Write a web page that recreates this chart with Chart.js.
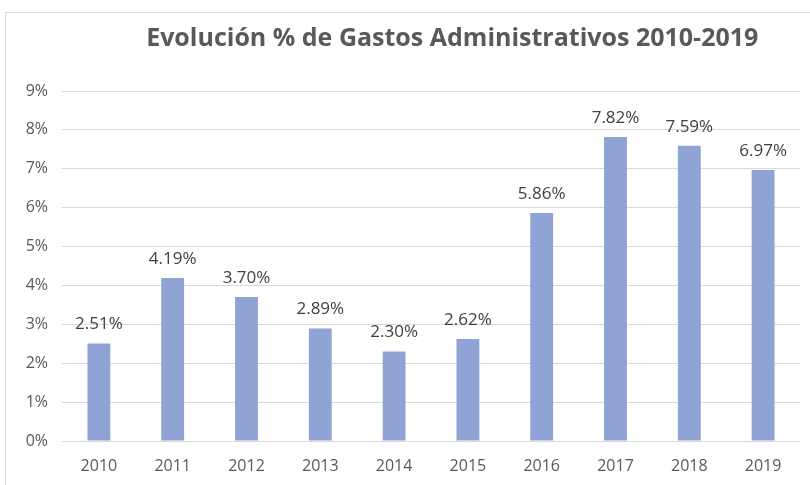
<!DOCTYPE html>
<html>
<head>
<meta charset="utf-8">
<script src="https://cdn.jsdelivr.net/npm/chart.js@4"></script>
<style>
  body { margin: 0; background: #fff; }
  #box {
    position: absolute; left: 5px; top: 12px;
    width: 805px; height: 473px;
    border-left: 1px solid #d9d9d9; border-top: 1px solid #d9d9d9;
  }
</style>
</head>
<body>
<div id="box"><canvas id="c" width="804" height="472"></canvas></div>
<script>
// data
let years = ['2010', '2011', '2012', '2013', '2014', '2015', '2016', '2017', '2018', '2019'];
let gastos = [2.51, 4.19, 3.70, 2.89, 2.30, 2.62, 5.86, 7.82, 7.59, 6.97];
let yTicks = [0, 1, 2, 3, 4, 5, 6, 7, 8, 9];
let titulo = 'Evolución % de Gastos Administrativos 2010-2019';

// title sits a bit right of centre in the original, so draw it ourselves
let offsetTitle = {
    id: 'offsetTitle',
    afterDraw(chart) {
        let ctx = chart.ctx;
        ctx.save();
        ctx.font = 'bold 25px "Open Sans", sans-serif';
        ctx.fillStyle = '#595959';
        ctx.textAlign = 'center';
        ctx.textBaseline = 'middle';
        ctx.fillText(titulo, chart.width * 0.555, 26);
        ctx.restore();
    }
};

// write the value above every bar
let barLabels = {
    id: 'barLabels',
    afterDatasetsDraw(chart) {
        let ctx = chart.ctx;
        let meta = chart.getDatasetMeta(0);
        ctx.save();
        ctx.font = '17px "Open Sans", sans-serif';
        ctx.fillStyle = '#404040';
        ctx.textAlign = 'center';
        ctx.textBaseline = 'middle';
        meta.data.forEach((bar, i) => {
            ctx.fillText(gastos[i].toFixed(2) + '%', bar.x, bar.y - 19);
        });
        ctx.restore();
    }
};

new Chart(document.getElementById('c'), {
    type: 'bar',
    data: {
        labels: years,
        datasets: [{
            data: gastos,
            backgroundColor: '#8fa4d4',
            barPercentage: 0.31,
            categoryPercentage: 1
        }]
    },
    options: {
        responsive: false,
        animation: false,
        layout: { padding: { left: 0, right: 10, top: 78, bottom: 0 } },
        plugins: {
            legend: { display: false },
            tooltip: { enabled: false },
            title: { display: false }
        },
        scales: {
            x: {
                grid: { display: false },
                border: { display: false },
                ticks: { color: '#595959', font: { family: '"Open Sans", sans-serif', size: 16 }, padding: 8 },
                afterFit(scale) { scale.height = 44; }
            },
            y: {
                min: 0,
                max: 9,
                afterBuildTicks(scale) { scale.ticks = yTicks.map(v => ({ value: v })); },
                grid: { color: '#d9d9d9', drawTicks: false },
                border: { display: false },
                ticks: {
                    color: '#595959',
                    font: { family: '"Open Sans", sans-serif', size: 16 },
                    padding: 14,
                    callback: v => v + '%'
                },
                afterFit(scale) { scale.width = 56; }
            }
        }
    },
    plugins: [barLabels, offsetTitle]
});
</script>
</body>
</html>
